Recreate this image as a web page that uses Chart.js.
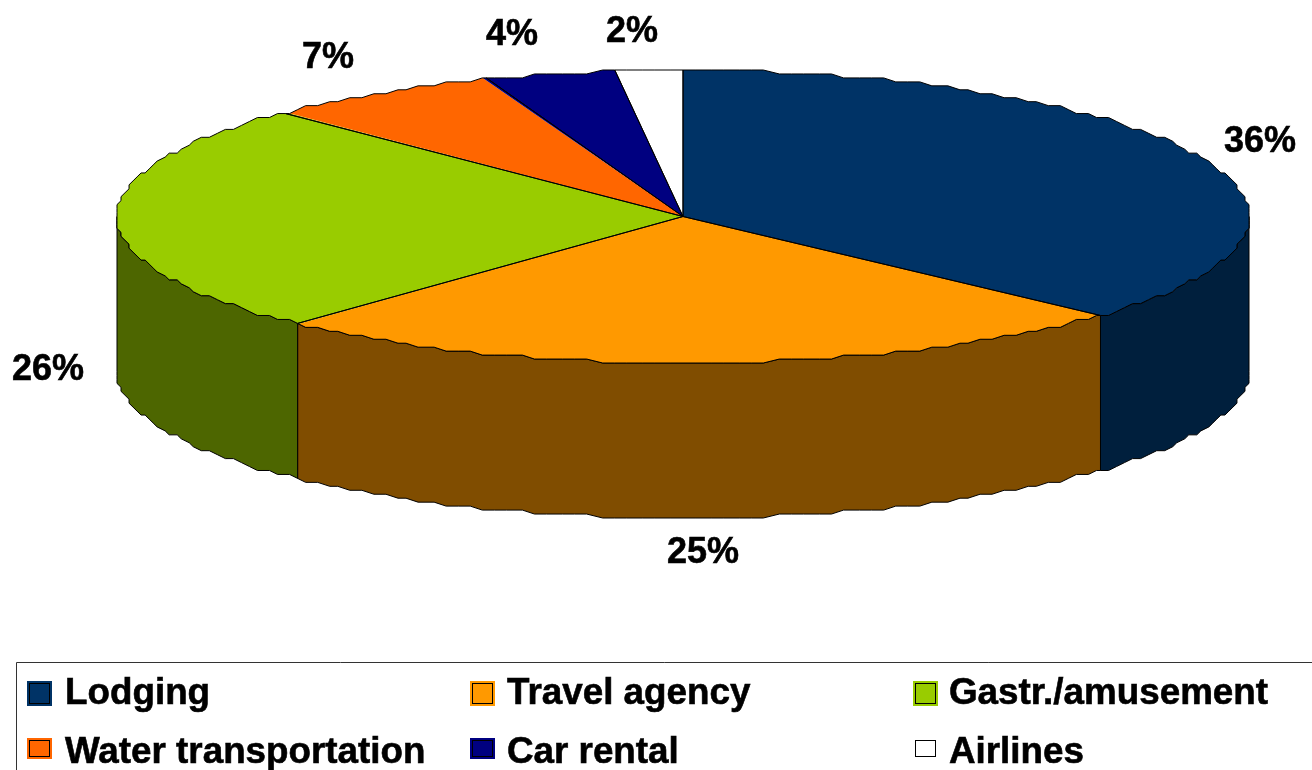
<!DOCTYPE html>
<html>
<head>
<meta charset="utf-8">
<title>Expenditure shares</title>
<script src="https://cdn.jsdelivr.net/npm/chart.js@4"></script>
<style>
    html, body { margin: 0; padding: 0; background: #ffffff; overflow: hidden; }
    canvas { display: block; }
</style>
</head>
<body>
<canvas id="pieChart" width="1312" height="770"></canvas>
<script>
'use strict';
let categories = ['Lodging', 'Travel agency', 'Gastr./amusement', 'Water transportation', 'Car rental', 'Airlines'];
// wedge sizes as measured on the picture, the printed labels are rounded differently
let sliceValues = [36.8, 25.1, 25.7, 6.7, 3.8, 1.9];
let sliceLabels = ['36%', '25%', '26%', '7%', '4%', '2%'];
let topColors = ['#003366', '#ff9900', '#99cc00', '#ff6600', '#000080', '#ffffff'];
let sideColors = ['#001f3d', '#804d00', '#4d6600', '#803300', '#000040', '#808080'];

// layout of the tilted pie
const cx = 683, cy = 216.5, rx = 566, ry = 146.5, depth = 155;
const stepX = 566 / 141, stepY = 293 / 74;
const rimSamples = 260;
const labelFont = "bold 36px 'Liberation Sans', Arial, sans-serif";
const legendFont = "bold 36.8px 'Liberation Sans', Arial, sans-serif";
const labelSpots = [[1260, 142], [703, 553], [48, 370], [328, 58], [512, 35], [632, 32]];
const legendCols = [27, 470, 913];
const legendTextX = [65, 507, 949];
const legendRows = [681, 738];

// the rim of the original is a coarse staircase, so snap it to a grid
function rimPoint(angle) {
    let x = cx + rx * Math.cos(angle);
    let y = cy + ry * Math.sin(angle);
    return [
        cx + Math.round((x - cx) / stepX) * stepX,
        cy + Math.round((y - cy) / stepY) * stepY
    ];
}

function rimPath(a0, a1) {
    let grid = Math.PI * 2 / rimSamples;
    let angles = [a0];
    for (let k = Math.ceil(a0 / grid); k * grid < a1; k += 1) {
        angles.push(k * grid);
    }
    angles.push(a1);
    let pts = [];
    angles.forEach(angle => {
        let p = rimPoint(angle);
        let last = pts[pts.length - 1];
        if (!last || last[0] !== p[0] || last[1] !== p[1]) {
            pts.push(p);
        }
    });
    return pts;
}

function drawWalls(ctx, arcs) {
    arcs.forEach((arc, index) => {
        let a0 = Math.max(arc.startAngle, 0);
        let a1 = Math.min(arc.endAngle, Math.PI);
        if (a1 <= a0) {
            return;
        }
        let pts = rimPath(a0, a1);
        ctx.beginPath();
        pts.forEach((p, i) => i === 0 ? ctx.moveTo(p[0], p[1]) : ctx.lineTo(p[0], p[1]));
        pts.slice().reverse().forEach(p => ctx.lineTo(p[0], p[1] + depth));
        ctx.closePath();
        ctx.fillStyle = sideColors[index];
        ctx.fill();
        ctx.strokeStyle = '#000000';
        ctx.lineWidth = 1;
        ctx.stroke();
    });
}

function drawEdges(ctx, arcs) {
    ctx.strokeStyle = '#000000';
    ctx.lineWidth = 1;
    arcs.forEach(arc => {
        let pts = rimPath(arc.startAngle, arc.endAngle);
        ctx.beginPath();
        ctx.moveTo(cx, cy);
        pts.forEach(p => ctx.lineTo(p[0], p[1]));
        ctx.closePath();
        ctx.stroke();
    });
}

function heavyText(ctx, text, x, y) {
    ctx.fillText(text, x, y);
    ctx.strokeText(text, x, y);
}

function drawLabels(ctx) {
    ctx.fillStyle = '#000000';
    ctx.strokeStyle = '#000000';
    ctx.lineWidth = 0.6;
    ctx.font = labelFont;
    ctx.textAlign = 'center';
    ctx.textBaseline = 'middle';
    sliceLabels.forEach((text, i) => heavyText(ctx, text, labelSpots[i][0], labelSpots[i][1]));
}

function drawLegend(ctx) {
    ctx.strokeStyle = '#333333';
    ctx.lineWidth = 1;
    ctx.beginPath();
    ctx.moveTo(16.5, 770);
    ctx.lineTo(16.5, 662.5);
    ctx.lineTo(1312, 662.5);
    ctx.stroke();

    ctx.font = legendFont;
    ctx.textAlign = 'left';
    ctx.textBaseline = 'alphabetic';
    categories.forEach((name, i) => {
        let col = i % 3;
        let x = legendCols[col];
        let y = legendRows[Math.floor(i / 3)];
        let size = i < 3 ? 25 : 21;
        ctx.lineWidth = 1;
        ctx.fillStyle = topColors[i];
        ctx.fillRect(x, y, 25, size);
        ctx.strokeStyle = '#000000';
        ctx.strokeRect(x + 2.5, y + 2.5, 20, size - 5);
        ctx.fillStyle = '#000000';
        ctx.lineWidth = 0.6;
        heavyText(ctx, name, legendTextX[col], y + (i < 3 ? 23 : 25));
    });
}

const pie3d = {
    id: 'pie3d',
    beforeDatasetsDraw(chart) {
        let ctx = chart.ctx;
        let arcs = chart.getDatasetMeta(0).data;
        drawWalls(ctx, arcs);

        // top face: library arcs squashed into the ellipse, cut along the staircase rim
        let pts = rimPath(0, Math.PI * 2);
        ctx.save();
        ctx.beginPath();
        pts.forEach((p, i) => i === 0 ? ctx.moveTo(p[0], p[1]) : ctx.lineTo(p[0], p[1]));
        ctx.closePath();
        ctx.clip();
        let r = arcs[0].outerRadius;
        ctx.translate(cx, cy);
        ctx.scale(rx * 1.04 / r, ry * 1.04 / r);
        ctx.translate(-arcs[0].x, -arcs[0].y);
    },
    afterDatasetsDraw(chart) {
        let ctx = chart.ctx;
        ctx.restore();
        drawEdges(ctx, chart.getDatasetMeta(0).data);
        drawLabels(ctx);
        drawLegend(ctx);
    }
};

let ctxPie = document.getElementById('pieChart').getContext('2d');
let pieChart = new Chart(ctxPie, {
    type: 'pie',
    data: {
        labels: categories,
        datasets: [{
            data: sliceValues,
            backgroundColor: topColors,
            borderWidth: 0,
            clip: false
        }]
    },
    options: {
        responsive: false,
        animation: false,
        events: [],
        plugins: {
            legend: { display: false },
            title: { display: false },
            tooltip: { enabled: false }
        }
    },
    plugins: [pie3d]
});
</script>
</body>
</html>
